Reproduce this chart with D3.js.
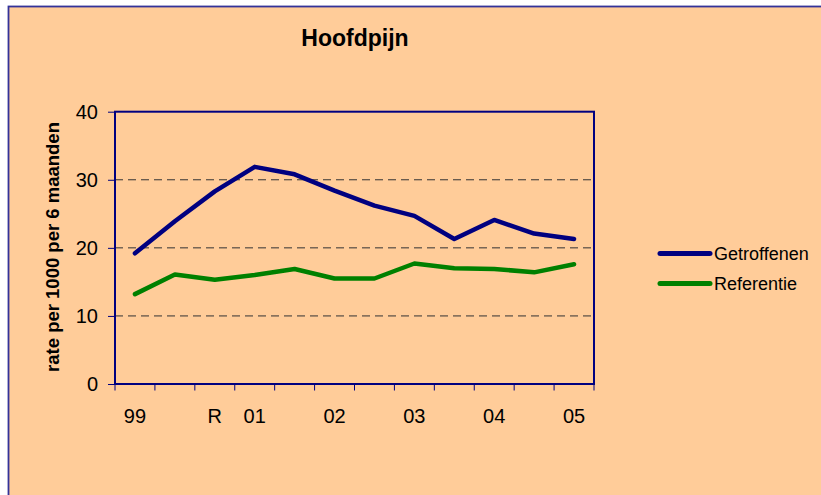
<!DOCTYPE html>
<html>
<head>
<meta charset="utf-8">
<script src="https://cdn.jsdelivr.net/npm/d3@7"></script>
<style>
  html, body { margin: 0; padding: 0; background: #fff; }
  svg { display: block; }
  text { font-family: "Liberation Sans", Arial, sans-serif; fill: #000; }
</style>
</head>
<body>
<svg id="chart" width="821" height="495"></svg>
<script>
// Half-year periods; only some carry a label on the axis
const periods = ["99", "", "R", "01", "", "02", "", "03", "", "04", "", "05"];
const getroffenen = [19.2, 23.9, 28.3, 31.9, 30.8, 28.4, 26.2, 24.7, 21.3, 24.1, 22.1, 21.3];
const referentie  = [13.2, 16.1, 15.3, 16.0, 16.9, 15.5, 15.5, 17.7, 17.0, 16.9, 16.4, 17.6];
const yTicks = [0, 10, 20, 30, 40];
const gridValues = [10, 20, 30];
const seriesNames = ["Getroffenen", "Referentie"];
const seriesColors = ["#000080", "#008000"];

const svg = d3.select("#chart");
const W = 821, H = 495;
const plot = { left: 115, right: 594, top: 111.7, bottom: 384 };

// chart area background and frame
svg.append("rect")
  .attr("x", 8.5).attr("y", 6.5)
  .attr("width", W + 20).attr("height", H + 20)
  .attr("fill", "#FFCC99")
  .attr("stroke", "#333399").attr("stroke-width", 1.8);

const x = d3.scaleBand()
  .domain(d3.range(periods.length))
  .range([plot.left, plot.right])
  .padding(0);

const y = d3.scaleLinear().domain([0, 40]).range([plot.bottom, plot.top]);

// dashed gridlines
svg.append("g").selectAll("line")
  .data(gridValues).join("line")
  .attr("x1", plot.left).attr("x2", plot.right)
  .attr("y1", d => y(d)).attr("y2", d => y(d))
  .attr("stroke", "#333").attr("stroke-width", 1)
  .attr("stroke-dasharray", "8,5");

// y axis
const yAxis = svg.append("g")
  .attr("transform", `translate(${plot.left},0)`)
  .call(d3.axisLeft(y).tickValues(yTicks).tickSize(7).tickPadding(10));
yAxis.select(".domain").remove();
yAxis.selectAll(".tick line").attr("stroke", "#000080").attr("stroke-width", 1);
yAxis.selectAll(".tick text")
  .style("font-size", "20px")
  .style("font-family", "'Liberation Sans', Arial, sans-serif")
  .attr("fill", "#000");

// x axis: ticks at period boundaries, labels at period centres
const boundaries = d3.range(periods.length + 1).map(i => plot.left + i * x.bandwidth());
svg.append("g").selectAll("line")
  .data(boundaries).join("line")
  .attr("x1", d => d).attr("x2", d => d)
  .attr("y1", plot.bottom).attr("y2", plot.bottom + 6.5)
  .attr("stroke", "#000080").attr("stroke-width", 1);

svg.append("g").selectAll("text")
  .data(periods.map((p, i) => ({ p, i })).filter(d => d.p !== ""))
  .join("text")
  .attr("x", d => x(d.i) + x.bandwidth() / 2)
  .attr("y", 416)
  .attr("text-anchor", "middle")
  .attr("dominant-baseline", "central")
  .style("font-size", "20px")
  .text(d => d.p);

// plot frame
svg.append("rect")
  .attr("x", plot.left).attr("y", plot.top)
  .attr("width", plot.right - plot.left).attr("height", plot.bottom - plot.top)
  .attr("fill", "none")
  .attr("stroke", "#000080").attr("stroke-width", 2);

// series lines
const line = d3.line()
  .x((d, i) => x(i) + x.bandwidth() / 2)
  .y(d => y(d));

[getroffenen, referentie].forEach((vals, k) => {
  svg.append("path")
    .datum(vals)
    .attr("d", line)
    .attr("fill", "none")
    .attr("stroke", seriesColors[k])
    .attr("stroke-width", 4.5)
    .attr("stroke-linejoin", "round")
    .attr("stroke-linecap", "round");
});

// title
svg.append("text")
  .attr("x", 355).attr("y", 38)
  .attr("text-anchor", "middle")
  .attr("dominant-baseline", "central")
  .style("font-size", "23px").style("font-weight", "bold")
  .text("Hoofdpijn");

// y axis title
svg.append("text")
  .attr("transform", `translate(52,247) rotate(-90)`)
  .attr("text-anchor", "middle")
  .attr("dominant-baseline", "central")
  .style("font-size", "18.5px").style("font-weight", "bold")
  .text("rate per 1000 per 6 maanden");

// legend
const legend = svg.append("g");
seriesNames.forEach((name, k) => {
  const ly = 253.5 + k * 30;
  legend.append("line")
    .attr("x1", 660).attr("x2", 710)
    .attr("y1", ly).attr("y2", ly)
    .attr("stroke", seriesColors[k]).attr("stroke-width", 5)
    .attr("stroke-linecap", "round");
  legend.append("text")
    .attr("x", 714).attr("y", ly)
    .attr("dominant-baseline", "central")
    .style("font-size", "18px")
    .text(name);
});
</script>
</body>
</html>
